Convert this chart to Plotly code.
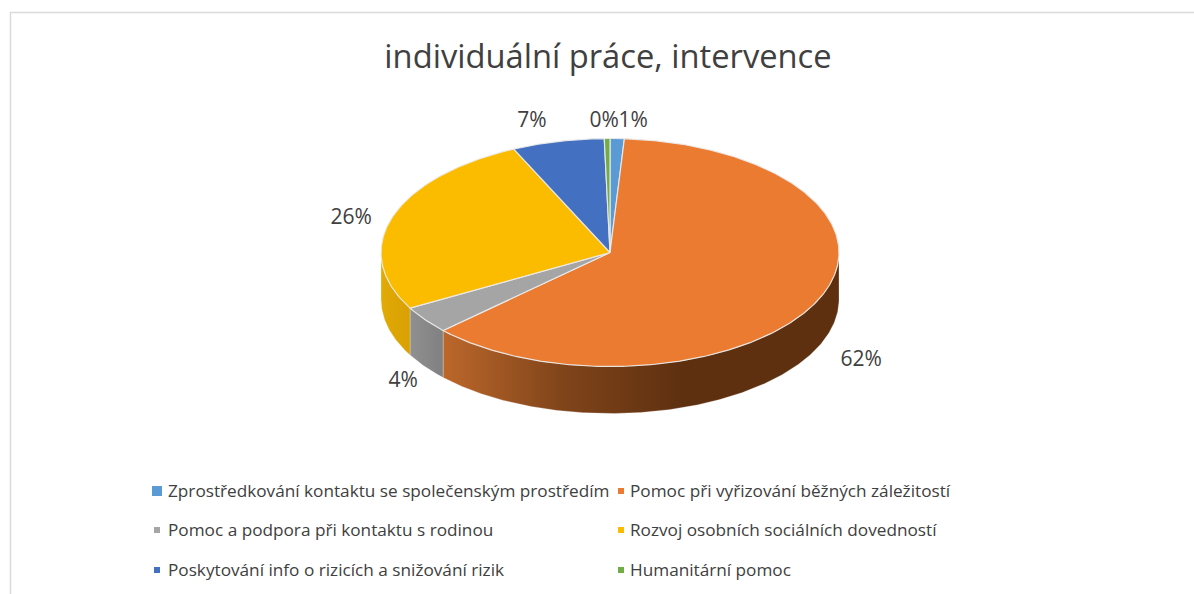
import math
import plotly.graph_objects as go

title = "individuální práce, intervence"
categories = [
    "Zprostředkování kontaktu se společenským prostředím",
    "Pomoc při vyřizování běžných záležitostí",
    "Pomoc a podpora při kontaktu s rodinou",
    "Rozvoj osobních sociálních dovedností",
    "Poskytování info o rizicích a snižování rizik",
    "Humanitární pomoc",
]
values = [1.0, 62.0, 3.9, 26.2, 6.5, 0.4]
colors = ["#5B9BD5", "#EA7B30", "#A5A5A5", "#FBBC00", "#4370C0", "#70AD47"]

# Layout constants (pixels, the axes span the whole figure 1:1)
W, H = 1194, 594
CX, CY, RX, RY, DEPTH = 610, 252.5, 229, 114, 47
FONT = "Open Sans"
INK = "#404040"
EDGE = "rgba(235,235,235,0.9)"
label_offsets = [(16, -17), (44, 60), (-22, 62), (-41, 1), (-26, -20), (-3, -17)]
legend_cells = [(157, 491, 168, 10), (621, 491, 630, 6), (157, 530, 168, 6),
                (621, 530, 630, 6), (157, 570, 168, 6), (621, 570, 630, 6)]
legend_text_nudge = 2
wall_shades = {
    1: [[0, "#BC672B"], [0.5, "#80441A"], [1, "#5E3010"]],
    2: [[0, "#909090"], [1, "#808080"]],
    3: [[0, "#E2AA06"], [1, "#D8A002"]],
}


def rim(t, drop=0.0):
    r = math.radians(t)
    return CX + RX * math.sin(r), CY - RY * math.cos(r) + drop


def arc(a, b, drop=0.0, step=0.5):
    n = max(2, int(abs(b - a) / step) + 1)
    pts = [rim(a + (b - a) * i / (n - 1), drop) for i in range(n)]
    return [p[0] for p in pts], [p[1] for p in pts]


total = sum(values)
bounds = [0.0]
for v in values:
    bounds.append(bounds[-1] + v / total * 360)

fig = go.Figure()

# Side walls: only the front half (90..270 degrees) is visible
for i, v in enumerate(values):
    a, b = max(bounds[i], 90), min(bounds[i + 1], 270)
    if a >= b:
        continue
    x1, y1 = arc(a, b)
    x2, y2 = arc(b, a, DEPTH)
    xs, ys = x1 + x2 + [x1[0]], y1 + y2 + [y1[0]]
    fig.add_trace(go.Scatter(
        x=xs, y=ys, mode="lines", fill="toself", hoverinfo="skip", showlegend=False,
        line=dict(color="rgba(255,255,255,0.35)", width=0.8),
        fillgradient=dict(type="horizontal", colorscale=wall_shades[i],
                          start=min(xs), stop=min(min(xs) + 240, max(xs))),
    ))

# Top face
for i, (name, color) in enumerate(zip(categories, colors)):
    x1, y1 = arc(bounds[i], bounds[i + 1])
    fig.add_trace(go.Scatter(
        x=[CX] + x1 + [CX], y=[CY] + y1 + [CY], mode="lines", fill="toself",
        fillcolor=color, line=dict(color=EDGE, width=1.2), name=name,
        hovertemplate=f"{name}: {values[i]}%<extra></extra>", showlegend=False,
    ))

# Percentage labels
for i, v in enumerate(values):
    mx, my = rim((bounds[i] + bounds[i + 1]) / 2)
    dx, dy = label_offsets[i]
    fig.add_trace(go.Scatter(
        x=[mx + dx], y=[my + dy], mode="text", text=[f"{int(v + 0.5)}%"],
        textposition="middle center", textfont=dict(family=FONT, size=21, color=INK),
        hoverinfo="skip", showlegend=False,
    ))

# Legend
for name, color, (mxp, myp, tx, size) in zip(categories, colors, legend_cells):
    fig.add_trace(go.Scatter(
        x=[mxp], y=[myp], mode="markers", hoverinfo="skip", showlegend=False,
        marker=dict(symbol="square", size=size, color=color, line=dict(width=0)),
    ))
    fig.add_trace(go.Scatter(
        x=[tx], y=[myp + legend_text_nudge], mode="text", text=[name], textposition="middle right",
        textfont=dict(family=FONT, size=17.2, color=INK), hoverinfo="skip", showlegend=False,
    ))

fig.update_layout(
    width=W, height=H, margin=dict(l=0, r=0, t=0, b=0),
    paper_bgcolor="white", plot_bgcolor="white", showlegend=False,
    xaxis=dict(range=[0, W], visible=False, fixedrange=True),
    yaxis=dict(range=[H, 0], visible=False, fixedrange=True),
    title=dict(text=title, x=608 / W, xanchor="center", y=1 - 57 / H, yanchor="middle",
               font=dict(family=FONT, size=32.7, color=INK)),
    shapes=[
        dict(type="line", xref="x", yref="y", x0=10, x1=W, y0=12.5, y1=12.5,
             line=dict(color="#DADADA", width=1.5)),
        dict(type="line", xref="x", yref="y", x0=10.5, x1=10.5, y0=12, y1=H,
             line=dict(color="#DADADA", width=1.5)),
    ],
)

fig.write_html(
    "out.html",
    config={"displayModeBar": False},
    post_script="document.body.style.margin='0';document.body.style.overflow='hidden';",
)
